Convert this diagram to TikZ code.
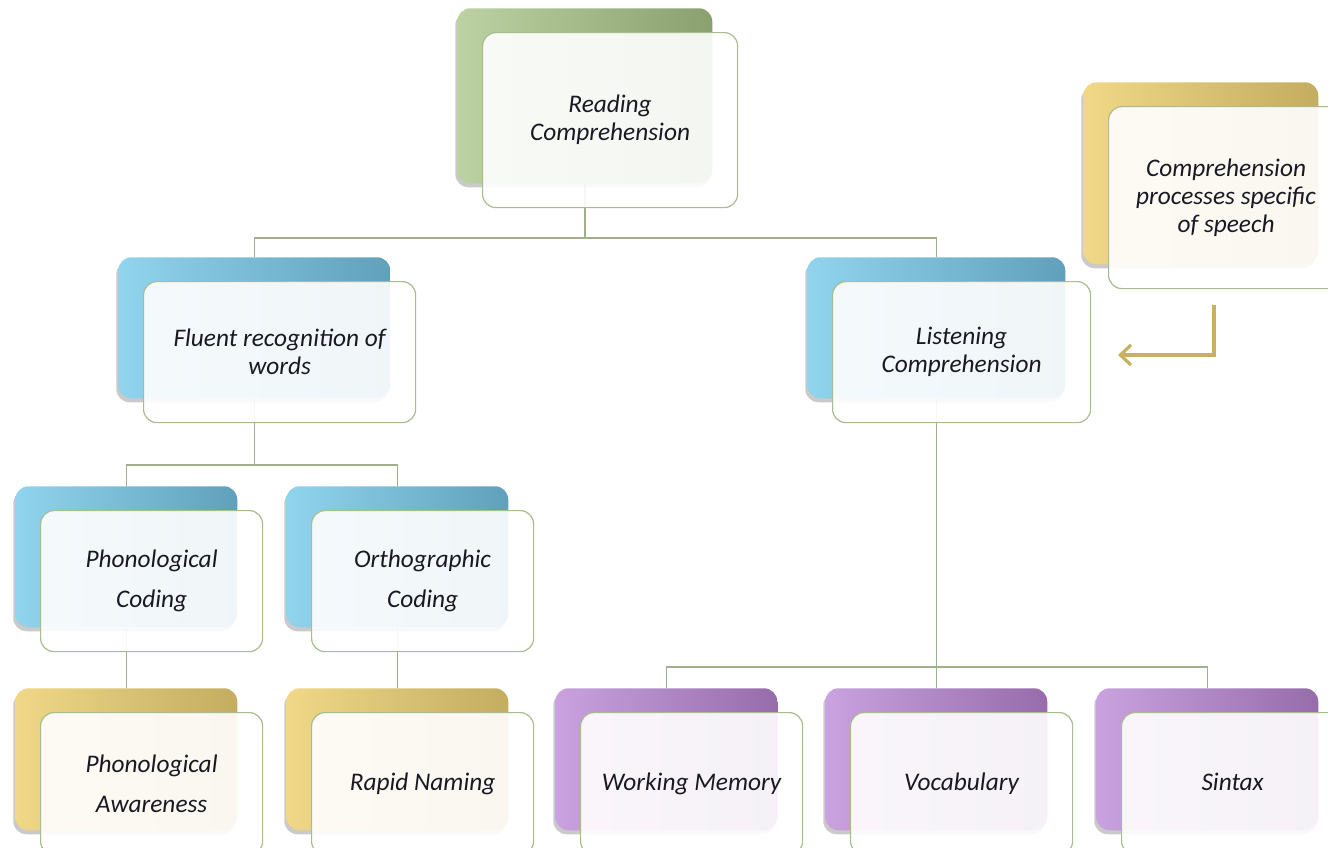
\documentclass[tikz,border=0pt]{standalone}
\usepackage{fontspec}
\setmainfont{Carlito}
\usetikzlibrary{shadows,backgrounds,arrows.meta,calc}
\definecolor{gL}{RGB}{188,210,162}
\definecolor{gD}{RGB}{138,160,110}
\definecolor{bL}{RGB}{145,212,237}
\definecolor{bD}{RGB}{96,160,186}
\definecolor{yL}{RGB}{240,216,136}
\definecolor{yD}{RGB}{196,172,96}
\definecolor{pL}{RGB}{202,162,224}
\definecolor{pD}{RGB}{150,108,170}
\definecolor{edgec}{RGB}{168,188,142}
\definecolor{linkc}{RGB}{160,176,138}
\definecolor{arrowc}{RGB}{200,176,96}
\definecolor{txt}{RGB}{25,25,35}
\tikzset{
  backbox/.style={rectangle, rounded corners=10pt, draw=none, anchor=north west, inner sep=0pt,
    drop shadow={shadow xshift=-1.5pt, shadow yshift=-3pt, opacity=0.35, fill=black!60}},
  greenB/.style={left color=gL, right color=gD},
  blueB/.style={left color=bL, right color=bD},
  goldB/.style={left color=yL, right color=yD},
  purpleB/.style={left color=pL, right color=pD},
  frontbox/.style={rectangle, rounded corners=10pt, draw=edgec, line width=0.9pt, fill=white,
    fill opacity=0.91, text opacity=1, anchor=north west, inner sep=0pt, align=center,
    font=\itshape\fontsize{19}{21}\selectfont, text=txt},
  widespace/.style={font=\itshape\fontsize{19}{30}\selectfont},
  link/.style={draw=linkc, line width=1.1pt},
  goldarrow/.style={draw=arrowc, line width=2.4pt, -{Straight Barb[length=8pt,width=15pt]}},
}
\newcommand\pairbox[8]{%
  \node[backbox,#2,minimum width=#5*0.75pt,minimum height=#6*0.75pt] (#1B) at (#3,#4) {};
  \node[frontbox,minimum width=#5*0.75pt,minimum height=#6*0.75pt,#8] (#1) at (#3+25,#4+24) {#7};}
\begin{document}
\begin{tikzpicture}[x=0.75pt,y=-0.75pt]
\useasboundingbox (0,0) rectangle (1328,847);
\pairbox{rc}{greenB}{457}{8}{255}{175}{Reading\\Comprehension}{}
\pairbox{cps}{goldB}{1083}{82}{235}{182}{Comprehension\\processes specific\\of speech}{}
\pairbox{frw}{blueB}{118}{257}{272}{141}{Fluent recognition of\\words}{}
\pairbox{lc}{blueB}{807}{257}{258}{141}{Listening\\Comprehension}{}
\pairbox{pc}{blueB}{15}{486}{222}{141}{Phonological\\Coding}{widespace}
\pairbox{oc}{blueB}{286}{486}{222}{141}{Orthographic\\Coding}{widespace}
\pairbox{pa}{goldB}{15}{688}{222}{142}{Phonological\\Awareness}{widespace}
\pairbox{rn}{goldB}{286}{688}{222}{142}{Rapid Naming}{}
\pairbox{wm}{purpleB}{555}{688}{222}{142}{Working Memory}{}
\pairbox{voc}{purpleB}{825}{688}{222}{142}{Vocabulary}{}
\pairbox{sin}{purpleB}{1096}{688}{222}{142}{Sintax\vphantom{g}}{}
\begin{scope}[on background layer]
  \draw[link] (rcB.south) -- (rcB.south |- 0,238) -| (frwB.north);
  \draw[link] (rcB.south |- 0,238) -| (lcB.north);
  \draw[link] (frwB.south) -- (frwB.south |- 0,465) -| (pcB.north);
  \draw[link] (frwB.south |- 0,465) -| (ocB.north);
  \draw[link] (pcB.south) -- (paB.north);
  \draw[link] (ocB.south) -- (rnB.north);
  \draw[link] (lcB.south) -- (vocB.north);
  \draw[link] (lcB.south |- 0,667) -| (wmB.north);
  \draw[link] (lcB.south |- 0,667) -| (sinB.north);
\end{scope}
\coordinate (arrS) at (1214,305);
\coordinate (arrE) at (1118,355);
\draw[goldarrow] (arrS) |- (arrE);
\end{tikzpicture}
\end{document}
